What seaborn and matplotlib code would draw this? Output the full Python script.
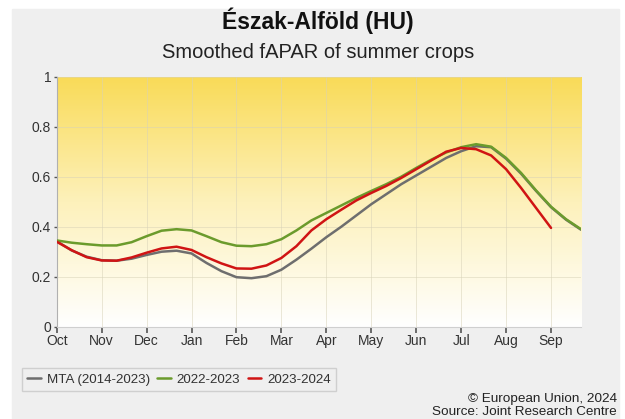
import numpy as np
import pandas as pd
import matplotlib
matplotlib.use("Agg")
import matplotlib.pyplot as plt
import seaborn as sns
from matplotlib.colors import LinearSegmentedColormap
from matplotlib.patches import Rectangle

# dekads from 1 Oct to late Sep
months = ["Oct", "Nov", "Dec", "Jan", "Feb", "Mar", "Apr", "May", "Jun", "Jul", "Aug", "Sep"]

mta = [0.342, 0.305, 0.280, 0.266, 0.264, 0.272, 0.287, 0.300, 0.304, 0.293, 0.255, 0.222,
       0.198, 0.194, 0.202, 0.228, 0.268, 0.312, 0.358, 0.400, 0.445, 0.490, 0.530, 0.570,
       0.605, 0.640, 0.675, 0.702, 0.722, 0.718, 0.672, 0.612, 0.543, 0.478, 0.428, 0.388]
y2223 = [0.345, 0.336, 0.330, 0.325, 0.325, 0.338, 0.362, 0.384, 0.390, 0.385, 0.362, 0.338,
         0.324, 0.322, 0.330, 0.350, 0.385, 0.425, 0.455, 0.485, 0.515, 0.543, 0.570, 0.600,
         0.635, 0.668, 0.697, 0.718, 0.730, 0.720, 0.675, 0.615, 0.545, 0.480, 0.430, 0.390]
y2324 = [0.340, 0.306, 0.278, 0.265, 0.264, 0.277, 0.296, 0.313, 0.320, 0.307, 0.278, 0.253,
         0.233, 0.232, 0.245, 0.275, 0.322, 0.385, 0.430, 0.468, 0.505, 0.535, 0.563, 0.595,
         0.630, 0.665, 0.700, 0.715, 0.710, 0.685, 0.630, 0.555, 0.475, 0.395]

series = {"MTA (2014-2023)": mta, "2022-2023": y2223, "2023-2024": y2324}
colors = {"MTA (2014-2023)": "#6e6e6e", "2022-2023": "#6b9b2c", "2023-2024": "#d01414"}

rows = []
for name, vals in series.items():
    for i, v in enumerate(vals):
        rows.append({"dekad": i, "value": v, "series": name})
df = pd.DataFrame(rows)

sns.set_style("white")
plt.rcParams["font.family"] = ["Liberation Sans", "DejaVu Sans"]

W, H = 625, 419
fig = plt.figure(figsize=(6.25, 4.19), dpi=100)
fig.patch.set_facecolor("white")
# grey panel with a thin white margin around it
fig.patches.append(Rectangle((12 / W, 0), (619 - 12) / W, 1 - 9 / H, transform=fig.transFigure,
                             color="#efefef", zorder=-5))
ax = fig.add_axes([56.7 / W, 1 - 326.7 / H, (581 - 56.7) / W, 250 / H])
ax.set_zorder(2)

# yellow to white gradient background
cmap = LinearSegmentedColormap.from_list("bg", ["#ffffff", "#fdf1bb", "#f9db58"])
grad = np.linspace(0, 1, 256).reshape(-1, 1)
ax.imshow(grad, aspect="auto", cmap=cmap, origin="lower", extent=[0, 35, 0, 1], zorder=0)

sns.lineplot(data=df, x="dekad", y="value", hue="series", palette=colors, linewidth=1.8,
             ax=ax, zorder=3, solid_joinstyle="round", solid_capstyle="round")

ax.set_xlim(0, 35)
ax.set_ylim(0, 1)
ax.set_xticks(range(0, 36, 3))
ax.set_xticklabels(months)
ax.set_yticks([0, 0.2, 0.4, 0.6, 0.8, 1])
ax.set_yticklabels(["0", "0.2", "0.4", "0.6", "0.8", "1"])
ax.set_xlabel("")
ax.set_ylabel("")
ax.grid(True, color="#d8d2b8", linewidth=0.6, alpha=0.6, zorder=1)
ax.tick_params(axis="x", length=4, width=1.2, color="#555555", labelsize=10,
               labelcolor="#333333", pad=1, bottom=True)
ax.tick_params(axis="y", length=2, width=1, color="#555555", labelsize=10,
               labelcolor="#333333", pad=2, left=True)
for side in ["top", "right"]:
    ax.spines[side].set_visible(False)
ax.spines["left"].set_color("#b0b0b0")
ax.spines["bottom"].set_color("#cfcfcf")

ax.get_legend().remove()
handles, labels = ax.get_legend_handles_labels()
leg = fig.legend(handles, labels, loc="upper left", bbox_to_anchor=(22 / W, 1 - 368 / H),
                 ncol=3, fontsize=9.6, frameon=True, handlelength=1.0, handletextpad=0.45,
                 columnspacing=0.55, borderpad=0.4, borderaxespad=0, fancybox=False)
leg.get_frame().set_facecolor("#efefef")
leg.get_frame().set_edgecolor("#c8c8c8")
for t in leg.get_texts():
    t.set_color("#333333")

fig.text(318 / W, 1 - 21 / H, "Észak-Alföld (HU)", ha="center", va="center",
         fontsize=16.5, fontweight="bold", color="#111111")
fig.text(318 / W, 1 - 52 / H, "Smoothed fAPAR of summer crops", ha="center", va="center",
         fontsize=14.5, color="#222222")
fig.text(617 / W, 1 - 402 / H, "© European Union, 2024", ha="right", va="baseline",
         fontsize=9.7, color="#222222")
fig.text(617 / W, 1 - 415 / H, "Source: Joint Research Centre", ha="right", va="baseline",
         fontsize=9.7, color="#222222")

fig.savefig("out.png", dpi=100, facecolor=fig.get_facecolor())
